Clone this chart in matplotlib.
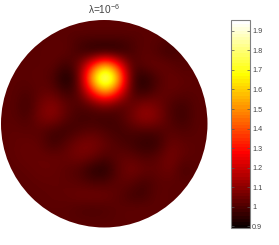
import numpy as np
import matplotlib
matplotlib.use("Agg")
import matplotlib.pyplot as plt
from matplotlib.patches import Circle
from matplotlib.colors import Normalize
from matplotlib.cm import ScalarMappable

plt.rcParams['font.family'] = ['Liberation Sans', 'DejaVu Sans']
plt.rcParams['mathtext.fontset'] = 'custom'
plt.rcParams['mathtext.rm'] = 'Liberation Sans'

title = 'λ=10$^{\\mathrm{-6}}$'
cbar_ticks = [0.9, 1.0, 1.1, 1.2, 1.3, 1.4, 1.5, 1.6, 1.7, 1.8, 1.9]
cbar_labels = ['0.9', '1', '1.1', '1.2', '1.3', '1.4', '1.5', '1.6', '1.7', '1.8', '1.9']
vmin, vmax = 0.893, 1.956

# sample positions on the unit disc
x_nodes = (np.array([3, 42, 81, 120, 159, 198, 237, 276, 315, 354, 393, 432, 471, 510, 549, 588, 627]) - 312.5) / 310
y_nodes = (371.5 - np.array([40, 79, 118, 157, 196, 235, 274, 313, 352, 391, 430, 469, 508, 547, 586, 625, 664, 703])) / 310

field = np.array([
 [1.02,1.02,1.02,1.02,1.02,1.02,1.02,1.02,1.02,1.02,1.02,1.02,1.02,1.02,1.02,1.02,1.02],
 [1.02,1.02,1.02,1.02,1.02,1.02,1.03,1.03,1.03,1.03,1.03,1.02,1.02,1.02,1.02,1.02,1.02],
 [1.02,1.02,1.02,1.02,1.02,1.02,1.00,1.00,1.00,1.00,1.00,1.02,1.02,1.00,1.02,1.02,1.02],
 [1.02,1.02,1.02,1.02,1.03,1.03,0.98,0.93,0.92,0.93,0.99,1.03,1.00,0.97,1.01,1.02,1.02],
 [1.02,1.02,1.02,1.02,1.03,0.97,1.05,1.33,1.62,1.33,1.00,1.03,1.05,1.03,1.00,1.02,1.02],
 [1.02,1.02,1.02,1.03,1.00,0.90,1.02,1.62,1.98,1.62,0.98,0.93,1.00,1.04,1.03,1.02,1.02],
 [1.02,1.02,1.00,1.03,1.03,0.96,1.02,1.33,1.60,1.33,1.00,0.95,1.02,1.04,1.02,1.02,1.02],
 [1.02,1.02,0.97,1.06,1.10,1.03,1.00,1.03,1.08,1.02,1.03,1.09,1.06,1.00,0.98,1.02,1.02],
 [1.02,1.02,0.99,1.07,1.10,1.02,0.98,0.98,0.97,0.99,1.06,1.13,1.09,1.00,0.97,1.02,1.02],
 [1.02,1.03,1.02,1.02,0.98,0.97,1.00,1.02,1.00,0.98,1.00,1.00,1.00,1.02,1.00,1.02,1.02],
 [1.02,1.03,1.04,1.03,0.97,1.02,1.07,1.08,1.04,1.00,0.98,0.95,0.96,1.05,1.03,1.02,1.02],
 [1.02,1.03,1.04,1.04,1.04,1.04,1.07,1.05,1.00,1.03,1.03,1.00,1.02,1.07,1.03,1.02,1.02],
 [1.02,1.02,1.03,1.04,1.04,1.02,1.00,0.94,0.93,1.02,1.07,1.04,1.03,1.06,0.98,1.02,1.02],
 [1.02,1.02,1.02,1.03,1.03,1.03,1.02,1.00,1.00,1.03,1.02,0.98,1.02,1.02,1.02,1.02,1.02],
 [1.02,1.02,1.02,1.02,1.03,1.03,1.05,1.06,1.05,1.02,0.98,0.98,1.03,1.02,1.02,1.02,1.02],
 [1.02,1.02,1.02,1.02,1.02,1.02,1.00,0.99,1.00,1.02,1.03,1.03,1.02,1.02,1.02,1.02,1.02],
 [1.02,1.02,1.02,1.02,1.02,1.02,1.02,1.02,1.02,1.02,1.02,1.02,1.02,1.02,1.02,1.02,1.02],
 [1.02,1.02,1.02,1.02,1.02,1.02,1.02,1.02,1.02,1.02,1.02,1.02,1.02,1.02,1.02,1.02,1.02],
])

W, H = 279, 245
fig = plt.figure(figsize=(W / 100, H / 100), dpi=100, facecolor='white')
bar_cmap = plt.get_cmap('hot', 64)
norm = Normalize(vmin, vmax)

ax = fig.add_axes([1 / W, 1 - 227.5 / H, 206.5 / W, 207.5 / H])
dx = x_nodes[1] - x_nodes[0]
dy = y_nodes[0] - y_nodes[1]
im = ax.imshow(field, cmap='hot', norm=norm, interpolation='bicubic', interpolation_stage='data',
               aspect='auto',
               extent=[x_nodes[0] - dx / 2, x_nodes[-1] + dx / 2,
                       y_nodes[-1] - dy / 2, y_nodes[0] + dy / 2])
disc = Circle((0, 0), 1, transform=ax.transData, facecolor='none', edgecolor='none')
ax.add_patch(disc)
im.set_clip_path(disc)
ax.set_xlim(-1, 1)
ax.set_ylim(-1, 1)
ax.axis('off')
fig.text(104.5 / W, 1 - 14.5 / H, title, ha='center', va='baseline', fontsize=7.3, color='#444444')

cax = fig.add_axes([230.5 / W, 1 - 227.5 / H, 19.5 / W, 207.5 / H])
cb = fig.colorbar(ScalarMappable(norm=norm, cmap=bar_cmap), cax=cax)
cb.solids.set_edgecolor('face')
cb.solids.set_linewidth(0.3)
cb.set_ticks(cbar_ticks, labels=cbar_labels)
cb.ax.minorticks_off()
cb.outline.set_edgecolor('#808080')
cb.outline.set_linewidth(0.8)
cax.tick_params(axis='y', direction='in', length=2, width=0.5, color='#555555',
                labelsize=5.2, labelcolor='#444444', pad=1.5, left=True, right=True)
fig.savefig('out.png', dpi=100)
